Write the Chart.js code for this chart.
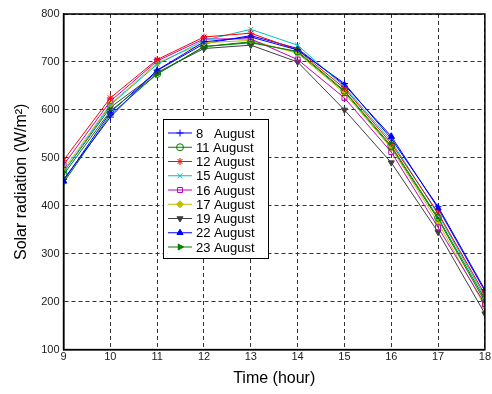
<!DOCTYPE html>
<html>
<head>
<meta charset="utf-8">
<script src="https://cdn.jsdelivr.net/npm/chart.js@4"></script>
<style>
  html, body { margin: 0; padding: 0; background: #fff; }
  #wrap { width: 492px; height: 394px; }
</style>
</head>
<body>
<div id="wrap"><canvas id="chart" width="492" height="394"></canvas></div>
<script>
const hours = [9, 10, 11, 12, 13, 14, 15, 16, 17, 18];
const aug8  = [455, 585, 683, 742, 752, 725, 655, 540, 398, 225];
const aug11 = [465, 598, 675, 732, 740, 722, 640, 525, 375, 205];
const aug12 = [495, 625, 705, 752, 760, 725, 645, 530, 385, 215];
const aug15 = [470, 610, 695, 745, 768, 735, 648, 535, 382, 210];
const aug16 = [485, 618, 702, 748, 748, 705, 625, 512, 355, 195];
const aug17 = [475, 612, 698, 740, 745, 718, 635, 520, 365, 190];
const aug19 = [470, 605, 678, 728, 735, 700, 600, 490, 345, 175];
const aug22 = [452, 595, 682, 738, 755, 728, 652, 545, 395, 222];
const aug23 = [448, 590, 675, 732, 742, 720, 638, 522, 372, 200];
const yTicks = [100, 200, 300, 400, 500, 600, 700, 800];

const seriesNames = ['8   August', '11 August', '12 August', '15 August', '16 August',
                     '17 August', '19 August', '22 August', '23 August'];
const seriesData = [aug8, aug11, aug12, aug15, aug16, aug17, aug19, aug22, aug23];
const colors = ['#0000ff', '#008000', '#ff0000', '#00bfbf', '#bf00bf', '#bfbf00', '#404040', '#0000ff', '#008000'];
const styles = ['cross', 'circle', 'star', 'crossRot', 'rect', 'rectRot', 'triangle', 'triangle', 'triangle'];
const rotations = [0, 0, 0, 0, 0, 0, 180, 0, 90];
const filled = [false, false, true, false, false, true, true, true, true];

const datasets = seriesData.map((vals, i) => ({
    label: seriesNames[i],
    data: vals.map((v, j) => ({ x: hours[j], y: v })),
    borderColor: colors[i],
    backgroundColor: filled[i] ? colors[i] : 'rgba(255,255,255,0)',
    borderWidth: 1,
    pointStyle: styles[i],
    pointRotation: rotations[i],
    pointRadius: 3.5,
    pointBorderWidth: 1,
    tension: 0
}));

// solid frame round the plot + legend drawn inside, like the original figure
const frameAndLegend = {
    id: 'frameAndLegend',
    afterDatasetsDraw(chart) {
        const ctx = chart.ctx;
        const a = chart.chartArea;
        ctx.save();
        ctx.strokeStyle = '#000';
        ctx.lineWidth = 1.5;
        ctx.strokeRect(a.left, a.top, a.right - a.left, a.bottom - a.top);

        const left = 163, top = 119, w = 105, h = 139, row = 14.25;
        ctx.fillStyle = '#fff';
        ctx.fillRect(left, top, w, h);
        ctx.lineWidth = 1;
        ctx.strokeRect(left + 0.5, top + 0.5, w, h);
        ctx.font = '13px Arial, "Liberation Sans", sans-serif';
        ctx.textBaseline = 'middle';
        chart.data.datasets.forEach((ds, i) => {
            const y = top + 14 + i * row;
            ctx.strokeStyle = ds.borderColor;
            ctx.beginPath();
            ctx.moveTo(168, y);
            ctx.lineTo(192, y);
            ctx.stroke();
            ctx.fillStyle = ds.backgroundColor;
            Chart.helpers.drawPoint(ctx, {
                pointStyle: ds.pointStyle, rotation: ds.pointRotation,
                radius: 3.5, borderWidth: 1
            }, 180, y);
            ctx.fillStyle = '#000';
            ctx.fillText(ds.label, 196, y + 1);
        });
        ctx.restore();
    }
};

new Chart(document.getElementById('chart'), {
    type: 'line',
    data: { datasets: datasets },
    plugins: [frameAndLegend],
    options: {
        responsive: false,
        animation: false,
        layout: { padding: { top: 14, right: 0, left: 8, bottom: 2 } },
        plugins: { legend: { display: false }, tooltip: { enabled: false } },
        scales: {
            x: {
                type: 'linear',
                min: 9, max: 18,
                ticks: { stepSize: 1, color: '#222', font: { size: 11, family: 'Arial' }, padding: 1 },
                grid: { color: '#333', lineWidth: 1, drawTicks: false },
                border: { display: true, color: '#000', width: 1.5, dash: [4, 3] },
                title: { display: true, text: 'Time (hour)', color: '#000', font: { size: 16, family: 'Arial' }, padding: { top: 4 } }
            },
            y: {
                min: 100, max: 800,
                afterBuildTicks: axis => { axis.ticks = yTicks.map(v => ({ value: v })); },
                ticks: { color: '#222', font: { size: 11, family: 'Arial' }, padding: 4 },
                grid: { color: '#333', lineWidth: 1, drawTicks: false },
                border: { display: true, color: '#000', width: 1.5, dash: [4, 3] },
                title: { display: true, text: 'Solar radiation (W/m²)', color: '#000', font: { size: 16, family: 'Arial' }, padding: { bottom: 6 } }
            }
        }
    }
});
</script>
</body>
</html>
